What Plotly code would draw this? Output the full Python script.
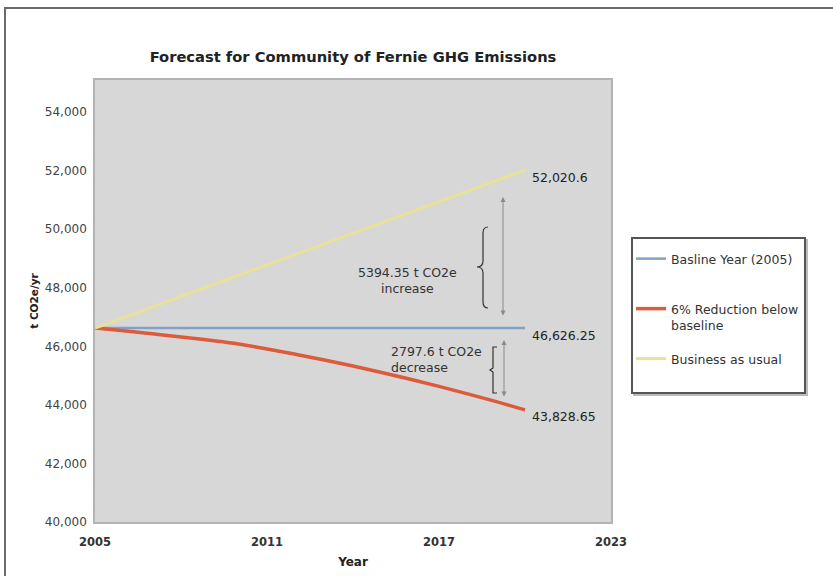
import plotly.graph_objects as go

# ---- data ----
years = list(range(2005, 2021))
baseline = [46626.25] * 16
reduction = [46626.25, 46531.25, 46431.25, 46323.25, 46208.25, 46081.25, 45911.25, 45729.0,
             45534.6, 45327.9, 45109.0, 44877.9, 44634.6, 44379.0, 44111.2, 43828.65]
business = [46626.25, 46985.9, 47345.5, 47705.1, 48064.7, 48424.4, 48784.0, 49143.6,
            49503.2, 49862.8, 50222.5, 50582.1, 50941.7, 51301.3, 51661.0, 52020.6]
series_names = ["Basline Year (2005)", "6% Reduction below<br>baseline", "Business as usual"]
end_labels = ["52,020.6", "46,626.25", "43,828.65"]
end_values = [52020.6, 46626.25, 43828.65]
x_ticks = [2005, 2011, 2017, 2023]
y_ticks = [40000, 42000, 44000, 46000, 48000, 50000, 52000, 54000]

FONT = "DejaVu Sans"
W, H = 833, 576
L, R, T, B = 95, 611, 80, 522  # plot area in px

def px(p):
    return (p - L) / (R - L)

def py(p):
    return (B - p) / (B - T)

fig = go.Figure()
fig.add_trace(go.Scatter(x=years, y=baseline, mode="lines", name=series_names[0],
                         legend="legend", line=dict(color="#7fa3c8", width=2.5)))
fig.add_trace(go.Scatter(x=years, y=reduction, mode="lines", name=series_names[1],
                         legend="legend2", line=dict(color="#dd5a3a", width=3.5, shape="spline")))
fig.add_trace(go.Scatter(x=years, y=business, mode="lines", name=series_names[2],
                         legend="legend3", line=dict(color="#e6e29a", width=3)))

ANN_SIZE = 12.5
annotations = []
for lab, v in zip(end_labels, end_values):
    annotations.append(dict(x=years[-1], y=v, text=lab, showarrow=False, xanchor="left",
                            xshift=5, yshift=-7, font=dict(family=FONT, size=ANN_SIZE, color="#222")))

# data-coord helpers for annotation graphics
def X(p):
    return 2005 + (p - L) / (R - L) * 18

def Y(p):
    return 40000 + (B - p) / (B - T) * 15100

annotations.append(dict(x=X(407), y=Y(280), text="5394.35 t CO2e<br>increase", showarrow=False,
                        align="center", font=dict(family=FONT, size=ANN_SIZE, color="#333")))
annotations.append(dict(x=X(389), y=Y(359), text="2797.6 t CO2e<br>decrease", showarrow=False,
                        xanchor="left", align="left", font=dict(family=FONT, size=ANN_SIZE, color="#333")))
for xa, y1, y2 in [(503, 197, 317), (504, 340, 398)]:
    annotations.append(dict(x=X(xa), y=Y(y1), ax=X(xa), ay=Y(y2), axref="x", ayref="y",
                            xref="x", yref="y", text="", showarrow=True, arrowside="end+start",
                            arrowhead=2, startarrowhead=2, arrowsize=1, startarrowsize=1,
                            arrowwidth=1, arrowcolor="#8a8a8a"))

brace1 = (f"M {X(488)},{Y(227)} Q {X(483)},{Y(227)} {X(483)},{Y(233)} L {X(483)},{Y(261)} "
          f"Q {X(483)},{Y(267)} {X(477)},{Y(267)} Q {X(483)},{Y(267)} {X(483)},{Y(273)} "
          f"L {X(483)},{Y(302)} Q {X(483)},{Y(308)} {X(488)},{Y(308)}")
brace2 = (f"M {X(497)},{Y(347)} L {X(493)},{Y(347)} L {X(493)},{Y(368)} L {X(490)},{Y(370)} "
          f"L {X(493)},{Y(372)} L {X(493)},{Y(393)} L {X(497)},{Y(393)}")

shapes = [
    dict(type="path", path=brace1, xref="x", yref="y", line=dict(color="#333", width=1.2)),
    dict(type="path", path=brace2, xref="x", yref="y", line=dict(color="#333", width=1.2)),
    # legend box
    dict(type="rect", xref="paper", yref="paper", x0=px(634), x1=px(807), y0=py(395), y1=py(240),
         line=dict(color="#bbbbbb", width=2), layer="below"),
    dict(type="rect", xref="paper", yref="paper", x0=px(632), x1=px(805), y0=py(393), y1=py(238),
         line=dict(color="#555555", width=2), fillcolor="white", layer="below"),
    # outer border
    dict(type="rect", xref="paper", yref="paper", x0=px(5), x1=px(850), y0=py(590), y1=py(8),
         line=dict(color="#6a6a6a", width=2)),
]

LEG_FONT = dict(family=FONT, size=12.5, color="#333")

def leg(ycenter):
    return dict(x=px(631), y=py(ycenter), xanchor="left", yanchor="middle", bgcolor="rgba(0,0,0,0)",
                borderwidth=0, font=LEG_FONT, itemwidth=30, valign="top", visible=True)

fig.update_layout(
    width=W, height=H,
    showlegend=True,
    margin=dict(l=L, r=W - R, t=T, b=H - B, autoexpand=False),
    paper_bgcolor="white", plot_bgcolor="#d7d7d7",
    font=dict(family=FONT, size=12, color="#333"),
    title=dict(text="<b>Forecast for Community of Fernie GHG Emissions</b>",
               font=dict(family=FONT, size=14.7, color="#222"),
               x=0.5, xref="paper", xanchor="center", y=1 - 57 / H, yref="container", yanchor="middle"),
    xaxis=dict(range=[2005, 2023], tickvals=x_ticks, ticktext=[f"<b>{t}</b>" for t in x_ticks],
               showgrid=False, zeroline=False, showline=True, mirror=True, linecolor="#b3b3b3",
               linewidth=1.5, ticklabelstandoff=8, automargin=False,
               tickfont=dict(family=FONT, size=11.5, color="#333"),
               title=dict(text="<b>Year</b>", font=dict(family=FONT, size=12, color="#222"), standoff=10)),
    yaxis=dict(range=[40000, 55100], tickvals=y_ticks, tickformat=",d",
               showgrid=False, zeroline=False, showline=True, mirror=True, linecolor="#b3b3b3",
               linewidth=1.5, ticklabelstandoff=4, automargin=False,
               tickfont=dict(family=FONT, size=12, color="#444"),
               title=dict(text="<b>t CO2e/yr</b>", font=dict(family=FONT, size=10.5, color="#222"), standoff=4)),
    legend=leg(259),
    legend2=leg(317),
    legend3=leg(359),
    shapes=shapes,
    annotations=annotations,
)

fig.write_html("out.html")
